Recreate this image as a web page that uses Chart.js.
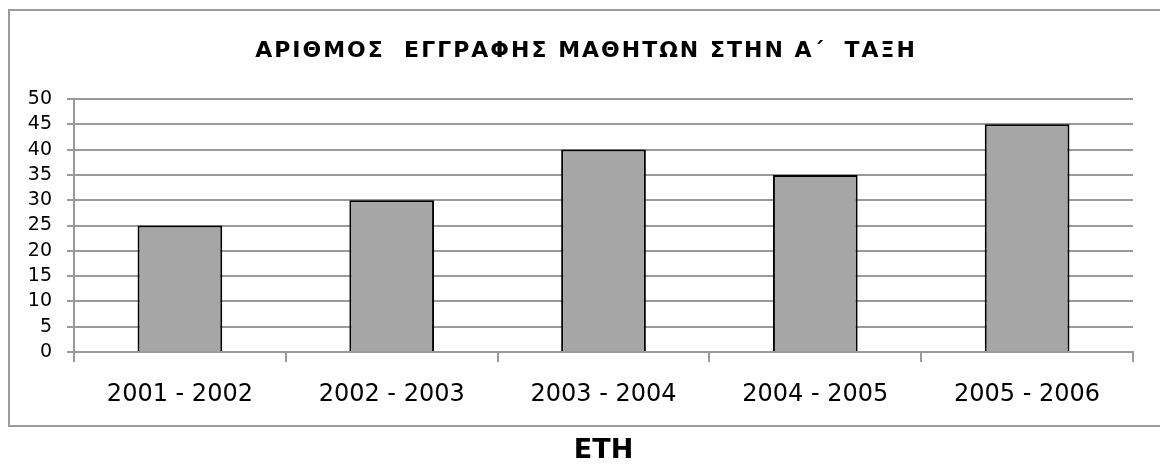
<!DOCTYPE html>
<html>
<head>
<meta charset="utf-8">
<script src="https://cdn.jsdelivr.net/npm/chart.js@4/dist/chart.umd.min.js"></script>
<style>
  html, body { margin: 0; padding: 0; background: #fff; }
  #wrap { position: relative; width: 1160px; height: 464px; }
</style>
</head>
<body>
<div id="wrap"><canvas id="chart" width="1160" height="464"></canvas></div>
<script>
var years = ['2001 - 2002', '2002 - 2003', '2003 - 2004', '2004 - 2005', '2005 - 2006'];
var students = [25, 30, 40, 35, 45];
var yTicks = [0, 5, 10, 15, 20, 25, 30, 35, 40, 45, 50];
var chartTitle = 'ΑΡΙΘΜΟΣ  ΕΓΓΡΑΦΗΣ ΜΑΘΗΤΩΝ ΣΤΗΝ Α΄  ΤΑΞΗ';

var fontName = "'DejaVu Sans', sans-serif";

// frame round the chart (open on the right, like the original) + spaced out title
var frame = {
    id: 'frame',
    beforeDraw: function(chart) {
        var ctx = chart.ctx;
        ctx.save();
        ctx.strokeStyle = '#9a9a9a';
        ctx.lineWidth = 2;
        ctx.beginPath();
        ctx.moveTo(1170, 10);
        ctx.lineTo(9, 10);
        ctx.lineTo(9, 426);
        ctx.lineTo(1170, 426);
        ctx.stroke();
        ctx.restore();
    },
    afterDraw: function(chart) {
        var ctx = chart.ctx;
        ctx.save();
        ctx.font = 'bold 22px ' + fontName;
        ctx.letterSpacing = '2px';
        ctx.fillStyle = '#000';
        ctx.textAlign = 'center';
        ctx.textBaseline = 'middle';
        ctx.fillText(chartTitle, 586, 51);
        ctx.restore();
    }
};

new Chart(document.getElementById('chart'), {
    type: 'bar',
    data: {
        labels: years,
        datasets: [{
            data: students,
            backgroundColor: '#a6a6a6',
            borderColor: '#000000',
            borderWidth: 2,
            barPercentage: 0.4,
            categoryPercentage: 1
        }]
    },
    options: {
        responsive: false,
        animation: false,
        layout: { padding: { top: 99, right: 27, left: 0, bottom: 0 } },
        plugins: {
            legend: { display: false },
            tooltip: { enabled: false },
            title: { display: false }
        },
        scales: {
            x: {
                grid: { drawOnChartArea: false, color: '#9a9a9a', tickLength: 10, lineWidth: 2 },
                border: { color: '#9a9a9a', width: 2 },
                ticks: { color: '#000', font: { family: fontName, size: 24 }, padding: 18 },
                title: {
                    display: true,
                    text: 'ΕΤΗ',
                    color: '#000',
                    font: { family: fontName, size: 27, weight: 'bold', lineHeight: 1 },
                    padding: 0
                },
                afterFit: function(scale) { scale.height = 112; }
            },
            y: {
                min: 0,
                max: 50,
                afterBuildTicks: function(scale) {
                    scale.ticks = yTicks.map(function(v) { return { value: v }; });
                },
                grid: { color: '#9a9a9a', tickLength: 7, lineWidth: 2 },
                border: { color: '#9a9a9a', width: 2 },
                ticks: { color: '#000', font: { family: fontName, size: 19 }, padding: 15, autoSkip: false },
                afterFit: function(scale) { scale.width = 74; }
            }
        }
    },
    plugins: [frame]
});
</script>
</body>
</html>
